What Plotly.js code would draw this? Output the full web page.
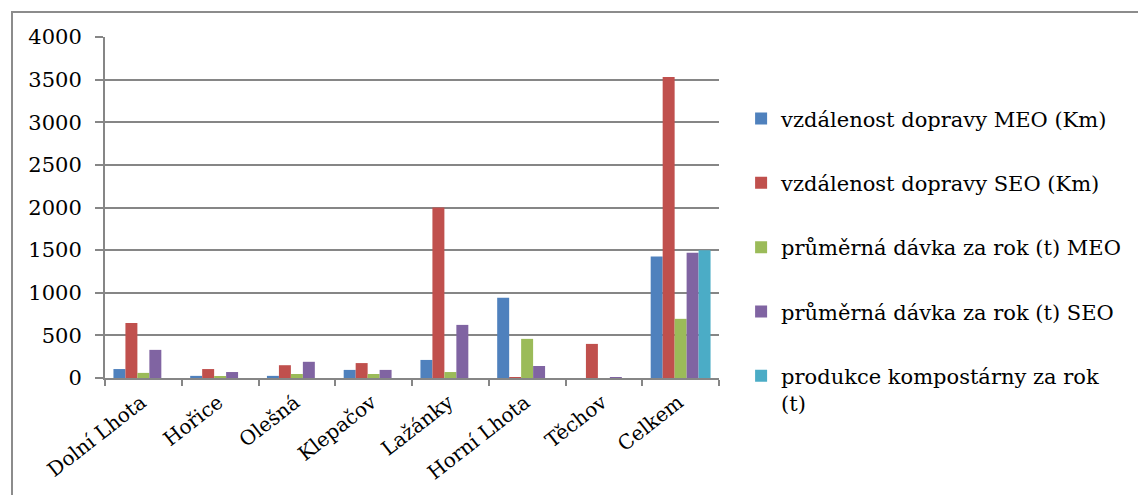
<!DOCTYPE html>
<html>
<head>
<meta charset="utf-8">
<script src="https://cdn.plot.ly/plotly-3.0.1.min.js"></script>
<style>
  html, body { margin: 0; padding: 0; background: #fff; }
  #wrap { position: relative; width: 1138px; height: 495px; overflow: hidden; }
  #frame { position: absolute; left: 11px; top: 11px; width: 1140px; height: 500px;
           border-left: 2px solid #8c8c8c; border-top: 2px solid #8c8c8c; pointer-events: none; }
  #chart { position: absolute; left: 0; top: 0; width: 1138px; height: 495px; }
</style>
</head>
<body>
<div id="wrap">
  <div id="chart"></div>
  <div id="frame"></div>
</div>
<script>
// Obce (kategorie na ose x)
const obce = ["Dolní Lhota", "Hořice", "Olešná", "Klepačov", "Lažánky", "Horní Lhota", "Těchov", "Celkem"];

// Vzdálenost dopravy (km) a průměrné dávky (t)
const vzdalenostMEO = [105, 25, 25, 95, 212, 940, 0, 1424];
const vzdalenostSEO = [645, 105, 150, 175, 2000, 10, 400, 3530];
const davkaMEO = [60, 12, 47, 47, 70, 459, 0, 694];
const davkaSEO = [330, 70, 190, 95, 623, 141, 10, 1470];
const kompostarna = [null, null, null, null, null, null, null, 1500];

const nazvy = [
  "vzdálenost dopravy MEO (Km)",
  "vzdálenost dopravy SEO (Km)",
  "průměrná dávka za rok (t) MEO",
  "průměrná dávka za rok (t) SEO",
  "produkce kompostárny za rok<br>(t)"
];
const barvy = ["#4F81BD", "#C0504D", "#9BBB59", "#8064A2", "#4BACC6"];
const rady = [vzdalenostMEO, vzdalenostSEO, davkaMEO, davkaSEO, kompostarna];

const yTicks = [0, 500, 1000, 1500, 2000, 2500, 3000, 3500, 4000];

const traces = rady.map((vals, i) => ({
  type: "bar",
  name: nazvy[i],
  x: obce,
  y: vals,
  marker: { color: barvy[i], line: { width: 0 } },
  legendgroup: "g" + i,
  hoverinfo: "x+y+name"
}));

const font = { family: "DejaVu Serif, Liberation Serif, serif", size: 21, color: "#000" };

const layout = {
  width: 1138,
  height: 495,
  margin: { l: 105, r: 419, t: 37, b: 117 },
  paper_bgcolor: "rgba(0,0,0,0)",
  plot_bgcolor: "#fff",
  font: font,
  barmode: "group",
  bargap: 0.22,
  bargroupgap: 0,
  showlegend: true,
  legend: {
    x: 1.036, xanchor: "left",
    y: 0.82, yanchor: "top",
    font: { family: font.family, size: 21, color: "#000" },
    tracegroupgap: 34,
    valign: "top",
    itemwidth: 30,
    bgcolor: "rgba(0,0,0,0)"
  },
  xaxis: {
    type: "category",
    tickangle: -38,
    ticks: "outside",
    tickson: "boundaries",
    ticklen: 6,
    tickwidth: 1.5,
    tickcolor: "#868686",
    ticklabelshift: -2,
    ticklabelstandoff: 3,
    showline: true,
    linecolor: "#868686",
    linewidth: 2,
    showgrid: false,
    zeroline: false,
    tickfont: { family: font.family, size: 20, color: "#000" }
  },
  yaxis: {
    range: [0, 4000],
    tickvals: yTicks,
    ticktext: yTicks.map(String),
    ticks: "outside",
    ticklen: 8,
    tickwidth: 1.5,
    tickcolor: "#868686",
    ticklabelstandoff: 9,
    showline: true,
    linecolor: "#868686",
    linewidth: 2,
    showgrid: true,
    gridcolor: "#868686",
    gridwidth: 1.5,
    zeroline: false,
    tickfont: font
  }
};

Plotly.newPlot("chart", traces, layout, { displayModeBar: false, responsive: false });
</script>
</body>
</html>
